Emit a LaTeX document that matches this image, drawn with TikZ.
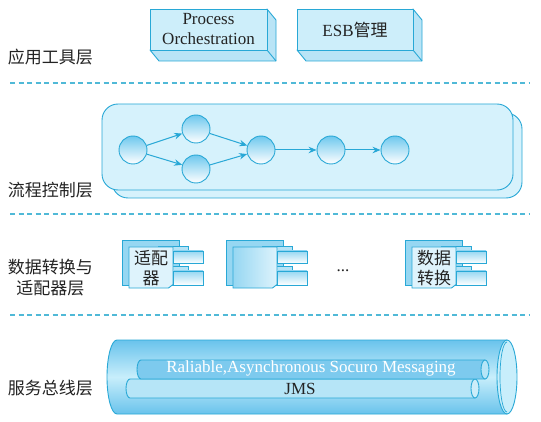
\documentclass[tikz,border=0pt]{standalone}
\usepackage{fontspec}
\setmainfont{Liberation Serif}
\newfontfamily\cjk{Noto Sans CJK SC}
\usetikzlibrary{arrows.meta}
\definecolor{lb}{RGB}{40,168,214}
\definecolor{dashc}{RGB}{80,185,215}
\definecolor{boxfill}{RGB}{205,238,250}
\definecolor{boxside}{RGB}{185,228,246}
\definecolor{flowfill}{RGB}{214,242,252}
\definecolor{circtop}{RGB}{110,200,238}
\definecolor{pagedark}{RGB}{150,215,242}
\definecolor{pagelight}{RGB}{222,243,252}
\definecolor{cyltop}{RGB}{105,195,236}
\definecolor{cylmid}{RGB}{200,238,251}
\definecolor{pipeA}{RGB}{125,202,238}
\definecolor{pipeB}{RGB}{182,229,247}
\definecolor{txt}{RGB}{35,35,35}
\tikzset{
  outl/.style={draw=lb, line width=0.9pt},
  layerlabel/.style={font=\cjk\fontsize{17}{21}\selectfont, text=txt, align=center, inner sep=0pt},
  boxtext/.style={font=\fontsize{17}{20}\selectfont, text=txt, align=center, inner sep=0pt},
  sep/.style={draw=dashc, line width=1.2pt, dash pattern=on 5pt off 3.5pt},
  flowc/.style={circle, minimum size=28pt, inner sep=0pt, draw=lb, line width=0.9pt, top color=circtop, bottom color=white},
  flowarrow/.style={draw=lb, line width=1pt, -{Stealth[length=8pt,width=6.5pt]}},
  pics/adapter/.style={code={
    % back page
    \path[outl, fill=pagedark] (0,0) rectangle (57,45);
    % back ports
    \path[outl, fill=pagedark!70!white] (36,6) rectangle (66,18);
    \path[outl, fill=pagedark!70!white] (36,26) rectangle (66,40);
    % front page
    \path[outl, #1] (7,7) -- (51,7) -- (51,44.5) -- (46.5,48) -- (7,48) -- cycle;
    % front ports
    \path[outl, top color=pagedark, bottom color=white] (51,11) rectangle (81,23.5);
    \path[outl, top color=pagedark, bottom color=white] (51,31) rectangle (81,45);
  }},
}
\begin{document}
\begin{tikzpicture}[x=1pt,y=-1pt]
\useasboundingbox[fill=white] (0,0) rectangle (541,422);

% ---------- separators ----------
\coordinate (s1a) at (10,83);  \coordinate (s1b) at (530,83);
\coordinate (s2a) at (10,214); \coordinate (s2b) at (530,214);
\coordinate (s3a) at (10,315); \coordinate (s3b) at (530,315);
\draw[sep] (s1a) -- (s1b);
\draw[sep] (s2a) -- (s2b);
\draw[sep] (s3a) -- (s3b);

% ---------- layer labels ----------
\node[layerlabel] (l1) at (50.5,57) {应用工具层};
\node[layerlabel] (l2) at (50.5,190) {流程控制层};
\node[layerlabel] (l3) at (50.5,277.5) {数据转换与\\适配器层};
\node[layerlabel] (l4) at (50.5,388) {服务总线层};

% ---------- top 3D boxes ----------
\path[outl, fill=boxside, line join=round] (150,50) -- (267,50) -- (267,9) -- (276,20) -- (276,61) -- (159,61) -- cycle;
\path[outl, line join=round] (267,50) -- (276,61);
\path[outl, fill=boxfill] (150,9) rectangle (267,50);
\node[boxtext] (po) at (208.5,29) {Process\\Orchestration};

\path[outl, fill=boxside, line join=round] (297,50) -- (413,50) -- (413,9) -- (422,20) -- (422,61) -- (306,61) -- cycle;
\path[outl, line join=round] (413,50) -- (422,61);
\path[outl, fill=boxfill] (297,9) rectangle (413,50);
\node[boxtext] (esb) at (355,30) {ESB{\cjk 管理}};

% ---------- flow control layer ----------
\path[outl, fill=flowfill, rounded corners=16pt] (112,113) rectangle (522,198);
\path[outl, fill=flowfill, rounded corners=16pt] (102,104) rectangle (513,190);

\node[flowc] (c1) at (133,150) {};
\node[flowc] (c2) at (196,129) {};
\node[flowc] (c3) at (196,169) {};
\node[flowc] (c4) at (261,150) {};
\node[flowc] (c5) at (331,150) {};
\node[flowc] (c6) at (395,150) {};
\draw[flowarrow] (c1) -- (c2);
\draw[flowarrow] (c1) -- (c3);
\draw[flowarrow] (c2) -- (c4);
\draw[flowarrow] (c3) -- (c4);
\draw[flowarrow] (c4) -- (c5);
\draw[flowarrow] (c5) -- (c6);

% ---------- adapter layer ----------
\pic at (122,240) {adapter={fill=pagelight}};
\pic at (226,240) {adapter={left color=pagedark, right color=pagelight}};
\pic at (405,240) {adapter={fill=pagelight}};
\node[boxtext, font=\cjk\fontsize{17}{20}\selectfont] (ad1) at (151,268) {适配\\器};
\node[boxtext, font=\cjk\fontsize{17}{20}\selectfont] (ad3) at (434,268) {数据\\转换};
\node[boxtext, anchor=base] (dots) at (343,272) {...};

% ---------- service bus ----------
\path[outl, top color=cyltop, bottom color=cyltop, middle color=cylmid]
  (507,340) -- (117,340) arc[start angle=-90, end angle=-270, x radius=10, y radius=37] -- (507,414) -- cycle;
\path[outl, fill=cylmid] (507,377) ellipse[x radius=10, y radius=37];
\path[draw=lb, line width=0.7pt] (507,342) arc[start angle=-90, end angle=-270, x radius=7, y radius=35];

% inner pipe JMS
\path[outl, fill=pipeB] (475,379) -- (130,379) arc[start angle=-90, end angle=-270, x radius=4, y radius=9.5] -- (475,398);
\path[outl, fill=pipeB!70!white] (475,388.5) ellipse[x radius=4, y radius=9.5];
% inner pipe messaging
\path[outl, fill=pipeA] (485,360) -- (141,360) arc[start angle=-90, end angle=-270, x radius=4, y radius=9.5] -- (485,379);
\path[outl, fill=pipeB] (485,369.5) ellipse[x radius=4, y radius=9.5];

\node[boxtext, text=white] (msg) at (311,368.5) {Raliable,Asynchronous Socuro Messaging};
\node[boxtext] (jms) at (300,388.5) {JMS};
\end{tikzpicture}
\end{document}
